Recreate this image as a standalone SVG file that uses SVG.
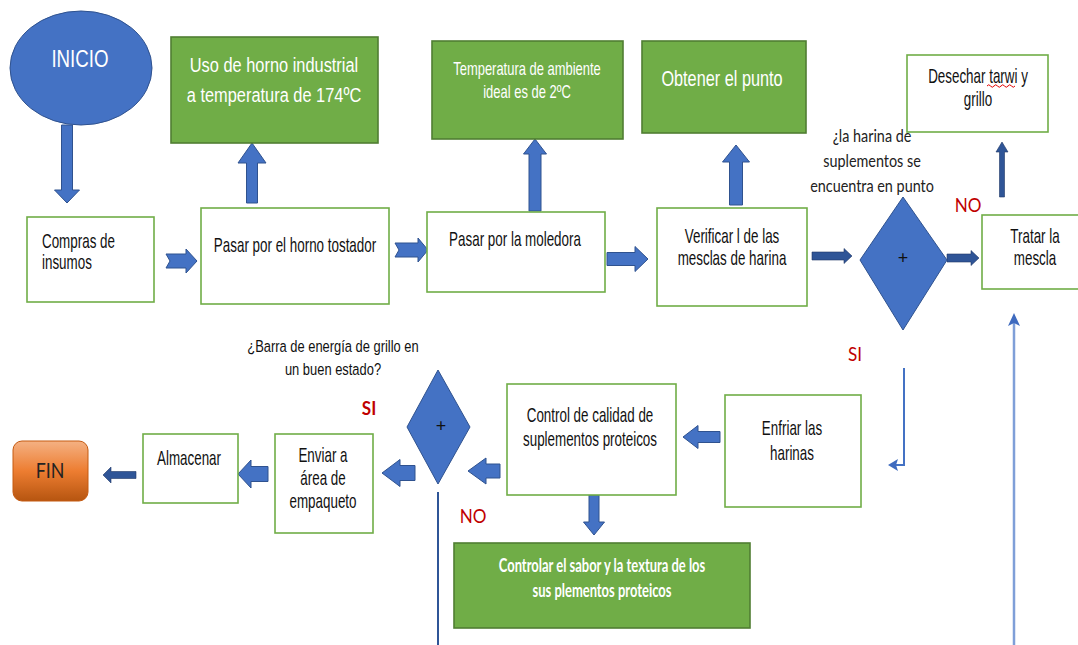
<svg xmlns="http://www.w3.org/2000/svg" width="1078" height="645" viewBox="0 0 1078 645">
<style>
.box{fill:#fff;stroke:#70AD47;stroke-width:1.6}
.gbox{fill:#70AD47;stroke:#507E32;stroke-width:1.6}
.blue{fill:#4472C4;stroke:#2F528F;stroke-width:1}
.ar{fill:#4472C4;stroke:#2F528F;stroke-width:1}
.ard{fill:#2F5597;stroke:#203864;stroke-width:.6}
.t{font-family:"Liberation Sans",Arial,sans-serif;font-size:20px;fill:#111;text-anchor:middle}
.ts{text-anchor:start}
.w{fill:#fff}
.c{font-family:Lato,"Open Sans",sans-serif}
.red{fill:#C00000}
</style>
<defs>
<linearGradient id="og" x1="0" y1="0" x2="0" y2="1">
<stop offset="0" stop-color="#F4B183"/>
<stop offset="0.5" stop-color="#ED7D31"/>
<stop offset="1" stop-color="#B65510"/>
</linearGradient>
</defs>
<rect width="1078" height="645" fill="#fff"/>

<g id="connectors">
<polygon class="ar" points="61.5,125 72.5,125 72.5,190 79.5,190 67,203 54.5,190 61.5,190"/>
<polygon class="ar" points="166,254 186,254 186,249 197,261 186,273 186,268 166,268 170,261"/>
<polygon class="ar" points="395,243 418,243 418,238 428,250 418,262 418,257 395,257 399,250"/>
<polygon class="ar" points="246.5,203 246.5,163 238,163 252,143 266,163 257.5,163 257.5,203"/>
<polygon class="ar" points="529,211 529,154 523.5,154 535,139 546.5,154 541,154 541,211"/>
<polygon class="ar" points="607,252.5 635,252.5 635,246.5 648,259 635,271.5 635,265.5 607,265.5"/>
<polygon class="ar" points="729.5,205 729.5,162 722.5,162 736,145 749.5,162 742.5,162 742.5,205"/>
<polygon class="ard" points="812,252 844,252 844,248.5 852,256 844,263.5 844,260 812,260"/>
<polygon class="ard" points="947,254 971,254 971,250.5 979,258 971,265.5 971,262 947,262"/>
<polygon class="ard" points="999.5,197 999.5,152 996,152 1002,142 1008,152 1004.5,152 1004.5,197"/>
<path d="M904,368 V465 H896" fill="none" stroke="#4472C4" stroke-width="2"/>
<polygon fill="#3F6BBF" points="888,465 898,459 896,465 898,471"/>
<path d="M1014,645 V322" fill="none" stroke="#7F9FD8" stroke-width="2.5"/>
<polygon fill="#3F6BBF" points="1014,313 1020,326 1014,323 1008,326"/>
<polygon class="ar" points="720,431.5 698,431.5 698,425.5 683,437 698,448.5 698,442.5 720,442.5"/>
<polygon class="ar" points="500,464 486,464 486,458 468,471 486,484 486,478 500,478"/>
<polygon class="ar" points="415,465.5 400,465.5 400,459.5 382,473 400,486.5 400,480.5 415,480.5"/>
<polygon class="ar" points="268,466.5 251,466.5 251,460 238,474 251,488 251,481.5 268,481.5"/>
<polygon class="ard" points="136,471.5 111,471.5 111,467 103,475 111,483 111,478.5 136,478.5"/>
<polygon class="ar" points="589,495 599,495 599,522 604.5,522 594,535 583.5,522 589,522"/>
<path d="M438,492 V645" fill="none" stroke="#2F5597" stroke-width="2"/>
</g>

<g id="inicio">
<ellipse class="blue" cx="81" cy="68" rx="71" ry="57"/>
<text class="t w" style="font-size:24px" transform="translate(80 0) scale(.78 1)"><tspan x="0" y="67">INICIO</tspan></text>
</g>

<g id="horno-industrial">
<rect class="gbox" x="171" y="37" width="207" height="106"/>
<text class="t w" style="font-size:21px" transform="translate(274 0) scale(.78 1)"><tspan x="0" y="72">Uso de horno industrial</tspan><tspan x="0" y="102">a temperatura de 174ºC</tspan></text>
</g>

<g id="temperatura">
<rect class="gbox" x="432" y="41" width="191" height="98"/>
<text class="t w" style="font-size:18px" transform="translate(527 0) scale(.72 1)"><tspan x="0" y="75">Temperatura de ambiente</tspan><tspan x="0" y="98">ideal es de 2ºC</tspan></text>
</g>

<g id="obtener">
<rect class="gbox" x="642" y="41" width="164" height="92"/>
<text class="t w" style="font-size:22px" transform="translate(722 0) scale(.74 1)"><tspan x="0" y="86">Obtener el punto</tspan></text>
</g>

<g id="desechar">
<rect class="box" x="907" y="55" width="141" height="77"/>
<text class="t" transform="translate(978 0) scale(.67 1)"><tspan x="0" y="83">Desechar tarwi y</tspan><tspan x="0" y="106">grillo</tspan></text>
<path d="M987,86 q1.75,-2.5 3.5,0 t3.5,0 t3.5,0 t3.5,0 t3.5,0 t3.5,0 t3.5,0 t3.5,0" fill="none" stroke="#E00000" stroke-width="1"/>
</g>

<g id="compras">
<rect class="box" x="27" y="217" width="127" height="85"/>
<text class="t ts" transform="translate(42 0) scale(.67 1)"><tspan x="0" y="248">Compras de</tspan><tspan x="0" y="269">insumos</tspan></text>
</g>

<g id="horno-tostador">
<rect class="box" x="201" y="208" width="188" height="96"/>
<text class="t" transform="translate(295 0) scale(.67 1)"><tspan x="0" y="252">Pasar por el horno tostador</tspan></text>
</g>

<g id="moledora">
<rect class="box" x="427" y="212" width="178" height="80"/>
<text class="t" transform="translate(515 0) scale(.67 1)"><tspan x="0" y="246">Pasar por la moledora</tspan></text>
</g>

<g id="verificar">
<rect class="box" x="657" y="208" width="150" height="98"/>
<text class="t" transform="translate(732 0) scale(.67 1)"><tspan x="0" y="243">Verificar l de las</tspan><tspan x="0" y="265">mesclas de harina</tspan></text>
</g>

<g id="decision-punto">
<polygon class="blue" points="903,197 947,260 903,330 860,260"/>
<text class="t c" style="font-size:18px" x="903" y="264">+</text>
<text class="t c" style="font-size:18px;fill:#222" transform="translate(872 0) scale(.8 1)"><tspan x="0" y="142">¿la harina de</tspan><tspan x="0" y="167">suplementos se</tspan><tspan x="0" y="192">encuentra en punto</tspan></text>
<text class="t c red" style="font-size:19px" transform="translate(968 0) scale(.9 1)"><tspan x="0" y="212">NO</tspan></text>
<text class="t c red" style="font-size:19px" transform="translate(855 0) scale(.9 1)"><tspan x="0" y="361">SI</tspan></text>
</g>

<g id="tratar">
<rect class="box" x="982" y="215" width="110" height="74"/>
<text class="t" transform="translate(1035 0) scale(.67 1)"><tspan x="0" y="243">Tratar la</tspan><tspan x="0" y="265">mescla</tspan></text>
</g>

<g id="enfriar">
<rect class="box" x="725" y="395" width="136" height="112"/>
<text class="t" transform="translate(792 0) scale(.67 1)"><tspan x="0" y="435">Enfriar las</tspan><tspan x="0" y="460">harinas</tspan></text>
</g>

<g id="control">
<rect class="box" x="507" y="384" width="169" height="111"/>
<text class="t" transform="translate(590 0) scale(.67 1)"><tspan x="0" y="422">Control de calidad de</tspan><tspan x="0" y="446">suplementos proteicos</tspan></text>
</g>

<g id="controlar">
<rect class="gbox" x="454" y="543" width="296" height="85"/>
<text class="t c w" style="font-size:18px;font-weight:bold" transform="translate(602 0) scale(.72 1)"><tspan x="0" y="572">Controlar el sabor y la textura de los</tspan><tspan x="0" y="597">sus plementos proteicos</tspan></text>
</g>

<g id="decision-barra">
<polygon class="blue" points="438,370 470,427 438,484 407,427"/>
<text class="t c" style="font-size:18px" x="441" y="432">+</text>
<text class="t" style="font-size:17px" transform="translate(333 0) scale(.76 1)"><tspan x="0" y="352">¿Barra de energía de grillo en</tspan><tspan x="0" y="375">un buen estado?</tspan></text>
<text class="t c red" style="font-size:19px;font-weight:bold" transform="translate(369 0) scale(.9 1)"><tspan x="0" y="415">SI</tspan></text>
<text class="t c red" style="font-size:19px" transform="translate(473 0) scale(.9 1)"><tspan x="0" y="523">NO</tspan></text>
</g>

<g id="enviar">
<rect class="box" x="275" y="434" width="98" height="99"/>
<text class="t" transform="translate(323 0) scale(.67 1)"><tspan x="0" y="462">Enviar a</tspan><tspan x="0" y="485">área de</tspan><tspan x="0" y="508">empaqueto</tspan></text>
</g>

<g id="almacenar">
<rect class="box" x="143" y="434" width="95" height="69"/>
<text class="t" transform="translate(189 0) scale(.67 1)"><tspan x="0" y="465">Almacenar</tspan></text>
</g>

<g id="fin">
<rect x="13" y="441" width="75" height="60" rx="9" fill="url(#og)" stroke="#C55A11" stroke-width="1"/>
<text class="t c" style="font-size:21px;fill:#222" transform="translate(50 0) scale(.85 1)"><tspan x="0" y="478">FIN</tspan></text>
</g>
</svg>
